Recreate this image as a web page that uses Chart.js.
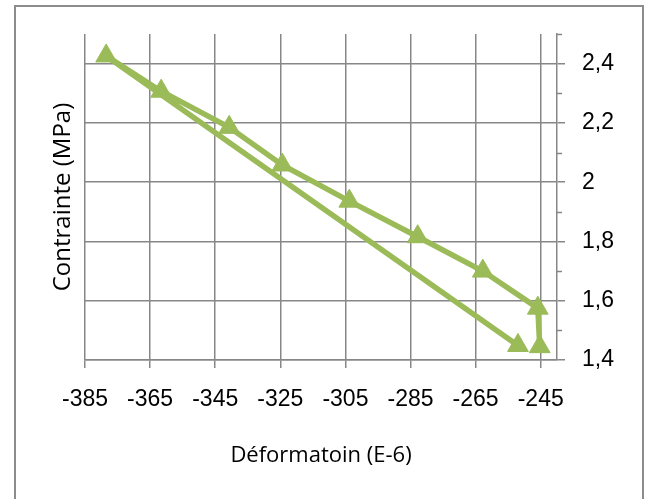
<!DOCTYPE html>
<html>
<head>
<meta charset="utf-8">
<script src="https://cdn.jsdelivr.net/npm/chart.js@4/dist/chart.umd.min.js"></script>
<style>
  html, body { margin: 0; padding: 0; background: #ffffff; }
  #wrap { width: 651px; height: 499px; }
</style>
</head>
<body>
<div id="wrap"><canvas id="chart" width="651" height="499"></canvas></div>
<script>
// values (strain in E-6, stress in MPa)
const strain = [-245.3, -245.9, -262.8, -282.8, -303.8, -324.4, -340.7, -361.6, -378.5, -252.0];
const stress = [1.445, 1.575, 1.700, 1.816, 1.936, 2.058, 2.185, 2.307, 2.426, 1.449];

const xTicks = [-385, -365, -345, -325, -305, -285, -265, -245];
const yTicks = [1.4, 1.6, 1.8, 2.0, 2.2, 2.4];
const yMinor = [1.5, 1.7, 1.9, 2.1, 2.3, 2.5];
const yLabels = ['1,4', '1,6', '1,8', '2', '2,2', '2,4'];

const green = '#9bbb59';
const gridGrey = '#878787';

// frame round the whole chart + short minor ticks on the right axis
const extras = {
    id: 'extras',
    beforeDraw(chart) {
        const ctx = chart.ctx;
        ctx.save();
        ctx.strokeStyle = '#8c8c8c';
        ctx.lineWidth = 2;
        ctx.strokeRect(15, 6, 628, 520);
        ctx.restore();
    },
    beforeDatasetsDraw(chart) {
        const ctx = chart.ctx;
        const y = chart.scales.y;
        ctx.save();
        ctx.strokeStyle = gridGrey;
        ctx.lineWidth = 1.5;
        yMinor.forEach(function (v) {
            const py = Math.round(y.getPixelForValue(v)) + 0.5;
            ctx.beginPath();
            ctx.moveTo(chart.chartArea.right, py);
            ctx.lineTo(chart.chartArea.right + 5, py);
            ctx.stroke();
        });
        ctx.restore();
    }
};

const points = strain.map((x, i) => ({ x: x, y: stress[i] }));

new Chart(document.getElementById('chart').getContext('2d'), {
    type: 'scatter',
    data: {
        datasets: [{
            data: points,
            showLine: true,
            borderColor: green,
            borderWidth: 5.5,
            backgroundColor: green,
            pointStyle: 'triangle',
            pointRadius: 12,
            pointBorderWidth: 1,
            pointBorderColor: green,
            pointBackgroundColor: green
        }]
    },
    options: {
        responsive: false,
        animation: false,
        layout: { padding: { top: 34, left: 0, right: 0, bottom: 0 } },
        plugins: { legend: { display: false }, tooltip: { enabled: false } },
        scales: {
            x: {
                type: 'linear',
                position: 'bottom',
                min: -385,
                max: -240,
                afterBuildTicks: s => { s.ticks = xTicks.map(v => ({ value: v })); },
                afterFit: s => { s.height = 139; },
                grid: { color: gridGrey, lineWidth: 1.5, tickLength: 8, tickColor: gridGrey },
                border: { display: true, color: gridGrey, width: 1.5 },
                ticks: {
                    padding: 18,
                    maxRotation: 0,
                    color: '#000',
                    font: { family: "'Liberation Sans', Arial, sans-serif", size: 23 },
                    callback: v => String(v)
                },
                title: {
                    display: true,
                    text: 'Déformatoin (E-6)',
                    color: '#000',
                    font: { family: "'Open Sans', sans-serif", size: 22 },
                    padding: { top: 0, bottom: 30 }
                }
            },
            y: {
                type: 'linear',
                position: 'right',
                min: 1.4,
                max: 2.5,
                afterBuildTicks: s => { s.ticks = yTicks.map(v => ({ value: v })); },
                afterFit: s => { s.width = 94; },
                grid: { color: gridGrey, lineWidth: 1.5, tickLength: 8, tickColor: gridGrey },
                border: { display: true, color: gridGrey, width: 1.5 },
                ticks: {
                    padding: 17,
                    color: '#000',
                    font: { family: "'Liberation Sans', Arial, sans-serif", size: 23 },
                    callback: (v, i) => yLabels[i]
                }
            },
            yTitle: {
                type: 'linear',
                position: 'left',
                min: 1.4,
                max: 2.5,
                afterFit: s => { s.width = 85; },
                grid: { display: false },
                border: { display: false },
                ticks: { display: false },
                title: {
                    display: true,
                    text: 'Contrainte (MPa)',
                    color: '#000',
                    font: { family: "'Open Sans', sans-serif", size: 24 },
                    padding: { top: 49, bottom: 0 }
                }
            }
        }
    },
    plugins: [extras]
});
</script>
</body>
</html>
